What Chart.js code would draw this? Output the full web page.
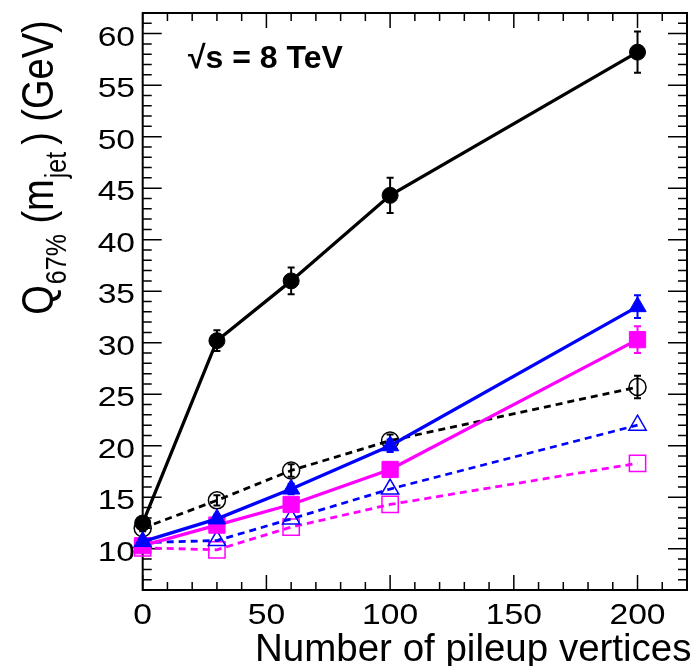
<!DOCTYPE html>
<html>
<head>
<meta charset="utf-8">
<script src="https://cdn.jsdelivr.net/npm/chart.js@4/dist/chart.umd.min.js"></script>
<style>
  html, body { margin: 0; padding: 0; background: #fff; overflow: hidden; }
  canvas { display: block; }
</style>
</head>
<body>
<canvas id="c" width="700" height="666"></canvas>
<script>
// Number of pileup vertices
const pileup = [0, 30, 60, 100, 200];

// Q67% of the jet mass (GeV), with statistical uncertainties
const blackFilled    = [12.5, 30.2, 36.0, 44.3, 58.2];
const blackFilledErr = [0.4, 1.0, 1.3, 1.7, 2.0];
const blueFilled     = [10.7, 12.9, 15.8, 20.0, 33.5];
const blueFilledErr  = [0.3, 0.4, 0.5, 0.6, 1.1];
const pinkFilled     = [10.3, 12.3, 14.3, 17.7, 30.3];
const pinkFilledErr  = [0.3, 0.4, 0.5, 0.5, 1.3];
const blackOpen      = [12.0, 14.7, 17.6, 20.5, 25.7];
const blackOpenErr   = [0.3, 0.5, 0.6, 0.6, 1.1];
const blueOpen       = [10.6, 10.8, 12.9, 15.8, 22.0];
const blueOpenErr    = [0, 0, 0, 0, 0];
const pinkOpen       = [10.1, 9.9, 12.1, 14.3, 18.3];
const pinkOpenErr    = [0, 0, 0, 0, 0];

// Axis ticks
const xTicks = [0, 50, 100, 150, 200];
const xTickLabels = ['0', '50', '100', '150', '200'];
const yTicks = [10, 15, 20, 25, 30, 35, 40, 45, 50, 55, 60];
const yTickLabels = ['10', '15', '20', '25', '30', '35', '40', '45', '50', '55', '60'];

const FONT = "'Liberation Sans', Arial, Helvetica, sans-serif";
const BLACK = '#000000', BLUE = '#0000ff', PINK = '#ff00ff';

const pts = (ys) => pileup.map((x, i) => ({ x, y: ys[i] }));

function solid(ys, errs, color, style, radius) {
  return {
    data: pts(ys), errors: errs,
    borderColor: color, borderWidth: 3.3,
    pointStyle: style, pointRadius: radius,
    pointBackgroundColor: color, pointBorderColor: color, pointBorderWidth: 1,
    tension: 0, clip: false
  };
}
function dashed(ys, errs, color, style, radius) {
  return {
    data: pts(ys), errors: errs,
    borderColor: color, borderWidth: 2.8, borderDash: [7, 5],
    pointStyle: style, pointRadius: radius,
    pointBackgroundColor: 'rgba(255,255,255,0)', pointBorderColor: color, pointBorderWidth: 1.5,
    tension: 0, clip: false
  };
}

// Frame, inward ticks and error bars
const framePlugin = {
  id: 'frame',
  beforeDatasetsDraw(chart) {
    const { ctx, chartArea: a, scales: { x, y } } = chart;
    ctx.save();
    ctx.strokeStyle = '#000';
    ctx.lineWidth = 1.5;
    ctx.beginPath();
    for (let v = 6; v <= 62; v++) {
      const py = y.getPixelForValue(v);
      const len = yTicks.includes(v) ? 19 : 9;
      ctx.moveTo(a.left, py); ctx.lineTo(a.left + len, py);
      ctx.moveTo(a.right, py); ctx.lineTo(a.right - len, py);
    }
    for (let v = 0; v <= 220; v += 10) {
      const px = x.getPixelForValue(v);
      const len = xTicks.includes(v) ? 15 : 8;
      ctx.moveTo(px, a.bottom); ctx.lineTo(px, a.bottom - len);
      ctx.moveTo(px, a.top); ctx.lineTo(px, a.top + len);
    }
    ctx.stroke();
    ctx.lineWidth = 2;
    ctx.strokeRect(a.left, a.top, a.right - a.left, a.bottom - a.top);

    // error bars with small caps
    chart.data.datasets.forEach((ds) => {
      ctx.strokeStyle = ds.borderColor;
      ctx.lineWidth = 2;
      ctx.beginPath();
      ds.data.forEach((p, i) => {
        const e = ds.errors[i];
        if (!e) return;
        const px = x.getPixelForValue(p.x);
        const y1 = y.getPixelForValue(p.y + e);
        const y2 = y.getPixelForValue(p.y - e);
        ctx.moveTo(px, y1); ctx.lineTo(px, y2);
        ctx.moveTo(px - 3.5, y1); ctx.lineTo(px + 3.5, y1);
        ctx.moveTo(px - 3.5, y2); ctx.lineTo(px + 3.5, y2);
      });
      ctx.stroke();
    });
    ctx.restore();
  },
  afterDraw(chart) {
    const { ctx, scales: { x, y } } = chart;
    ctx.save();
    ctx.fillStyle = '#000';

    // y tick labels
    ctx.font = `28px ${FONT}`;
    ctx.textAlign = 'right';
    ctx.textBaseline = 'alphabetic';
    yTicks.forEach((v, i) => {
      ctx.save();
      ctx.translate(135, y.getPixelForValue(v) + 12);
      ctx.scale(1.2, 1);
      ctx.fillText(yTickLabels[i], 0, 0);
      ctx.restore();
    });

    // x tick labels
    ctx.font = `30px ${FONT}`;
    ctx.textAlign = 'center';
    xTicks.forEach((v, i) => {
      ctx.save();
      ctx.translate(x.getPixelForValue(v), 623.5);
      ctx.scale(1.12, 1);
      ctx.fillText(xTickLabels[i], 0, 0);
      ctx.restore();
    });

    // x axis title
    ctx.font = `38.5px ${FONT}`;
    ctx.textAlign = 'left';
    ctx.fillText('Number of pileup vertices', 255, 661);

    // energy label
    ctx.font = `bold 32px ${FONT}`;
    ctx.fillText('\u221As = 8 TeV', 188, 68);

    // y axis title with subscripts, rotated
    const main = `38px ${FONT}`, sub = `25px ${FONT}`;
    const parts = [
      { t: 'Q', f: main, dy: 0, gap: 0 },
      { t: '67%', f: sub, dy: 11, gap: 1 },
      { t: ' (m', f: main, dy: 0, gap: 0 },
      { t: 'jet', f: sub, dy: 11, gap: 1 },
      { t: ')', f: main, dy: 0, gap: 7 },
      { t: ' (GeV)', f: main, dy: 0, gap: 0 }
    ];
    let total = 0;
    parts.forEach(p => { ctx.font = p.f; p.w = ctx.measureText(p.t).width; total += p.w + p.gap; });
    ctx.translate(53, 167.5);
    ctx.rotate(-Math.PI / 2);
    ctx.scale(1, 1.15);
    let cx = -total / 2;
    parts.forEach(p => {
      cx += p.gap;
      ctx.font = p.f;
      ctx.fillText(p.t, cx, p.dy);
      cx += p.w;
    });
    ctx.restore();
  }
};

new Chart(document.getElementById('c'), {
  type: 'line',
  data: {
    datasets: [
      solid(blackFilled, blackFilledErr, BLACK, 'circle', 8),
      solid(blueFilled, blueFilledErr, BLUE, 'triangle', 10),
      solid(pinkFilled, pinkFilledErr, PINK, 'rect', 11.5),
      dashed(blackOpen, blackOpenErr, BLACK, 'circle', 8.5),
      dashed(blueOpen, blueOpenErr, BLUE, 'triangle', 10),
      dashed(pinkOpen, pinkOpenErr, PINK, 'rect', 11.5)
    ]
  },
  options: {
    responsive: false,
    animation: false,
    devicePixelRatio: 1,
    layout: { padding: { left: 142.7, top: 9.3, right: 5.5, bottom: 76 } },
    plugins: { legend: { display: false }, tooltip: { enabled: false } },
    scales: {
      x: { type: 'linear', min: 0, max: 220, display: false },
      y: { type: 'linear', min: 6, max: 62, display: false }
    }
  },
  plugins: [framePlugin]
});
</script>
</body>
</html>
